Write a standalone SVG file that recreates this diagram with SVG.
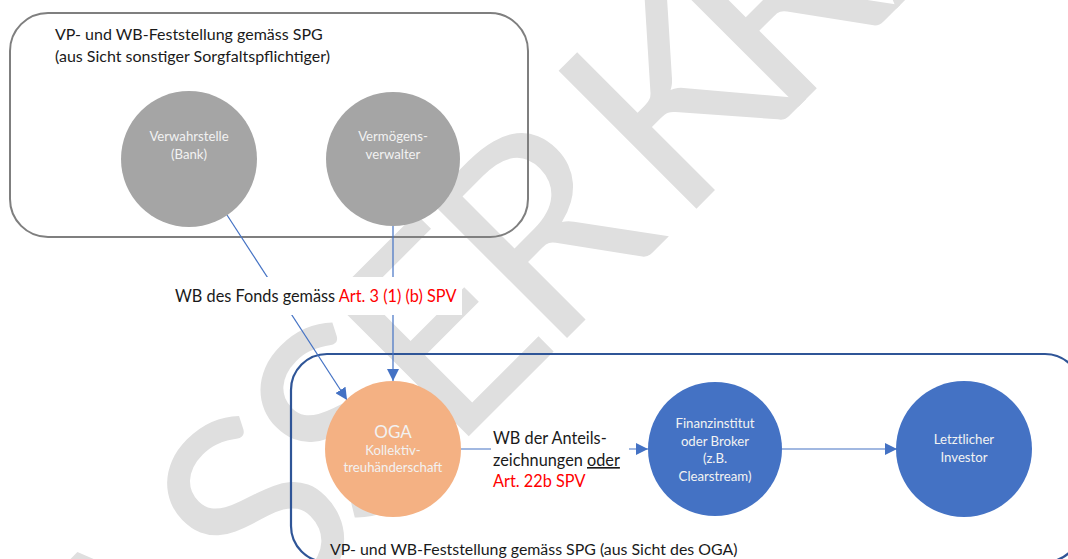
<svg xmlns="http://www.w3.org/2000/svg" width="1068" height="559" viewBox="0 0 1068 559">
<style>
text{font-family:Lato,"Open Sans","Liberation Sans",sans-serif}
.wm{fill:#dfdfdf;font-size:272px}
.grp-grey{fill:none;stroke:#7f7f7f;stroke-width:2}
.grp-blue{fill:none;stroke:#2f5597;stroke-width:2.2}
.ttl{font-size:16px;fill:#1a1a1a}
.lbl{font-size:16.3px;fill:#1a1a1a}
.red{fill:#ff0000}
.nt{font-size:13.2px;fill:#f2f2f2;text-anchor:middle}
.conn{stroke:#4472c4;stroke-width:1.2;fill:none}
.bg{fill:#ffffff}
</style>
<defs>
<marker id="ah" markerWidth="12" markerHeight="12" refX="12" refY="6" orient="auto" markerUnits="userSpaceOnUse"><path d="M0,0 L12,6 L0,12 z" fill="#4472c4"/></marker>
</defs>
<rect width="1068" height="559" fill="#ffffff"/>
<g id="watermark" transform="rotate(-45)">
<text class="wm" x="-686 -441 -256 -124 -2 137 320 464 627 807 960" y="640">WASSERKRAFT</text>
</g>
<g id="group-sonstige">
<rect class="grp-grey" x="10" y="13" width="518" height="224" rx="38"/>
<text class="ttl" x="55" y="40">VP- und WB-Feststellung gemäss SPG</text>
<text class="ttl" x="55" y="62">(aus Sicht sonstiger Sorgfaltspflichtiger)</text>
</g>
<g id="group-oga">
<rect class="grp-blue" x="291" y="354" width="790" height="208" rx="36"/>
<text class="ttl" x="330" y="555" style="font-size:15.9px">VP- und WB-Feststellung gemäss SPG (aus Sicht des OGA)</text>
</g>
<g id="connectors">
<line class="conn" x1="227" y1="215" x2="347" y2="400" marker-end="url(#ah)"/>
<line class="conn" x1="393" y1="226" x2="393" y2="381" marker-end="url(#ah)"/>
<line class="conn" x1="461" y1="449" x2="648" y2="449" marker-end="url(#ah)"/>
<line class="conn" x1="782" y1="449" x2="897" y2="449" marker-end="url(#ah)"/>
</g>
<g id="label-fonds">
<rect class="bg" x="170" y="277" width="292" height="38"/>
<text class="lbl" x="175" y="302">WB des Fonds gemäss <tspan class="red">Art. 3 (1) (b) SPV</tspan></text>
</g>
<g id="label-anteile">
<rect class="bg" x="491" y="428" width="138" height="66"/>
<text class="lbl" x="493" y="444">WB der Anteils-</text>
<text class="lbl" x="493" y="466">zeichnungen <tspan style="text-decoration:underline">oder</tspan></text>
<text class="lbl red" x="493" y="487">Art. 22b SPV</text>
</g>
<g id="node-verwahrstelle">
<circle cx="189" cy="159" r="68" fill="#a5a5a5"/>
<text class="nt" x="189" y="141">Verwahrstelle</text>
<text class="nt" x="189" y="159">(Bank)</text>
</g>
<g id="node-vermoegensverwalter">
<circle cx="393" cy="159" r="67" fill="#a5a5a5"/>
<text class="nt" x="393" y="141">Vermögens-</text>
<text class="nt" x="393" y="159">verwalter</text>
</g>
<g id="node-oga">
<circle cx="393" cy="449" r="68" fill="#f4b183"/>
<text class="nt" x="393" y="438" style="font-size:17px">OGA</text>
<text class="nt" x="393" y="455">Kollektiv-</text>
<text class="nt" x="393" y="472">treuhänderschaft</text>
</g>
<g id="node-finanzinstitut">
<circle cx="715" cy="449" r="67" fill="#4472c4"/>
<text class="nt" x="715" y="428">Finanzinstitut</text>
<text class="nt" x="715" y="445.5">oder Broker</text>
<text class="nt" x="715" y="463">(z.B.</text>
<text class="nt" x="715" y="480.5">Clearstream)</text>
</g>
<g id="node-investor">
<circle cx="964" cy="449" r="68" fill="#4472c4"/>
<text class="nt" x="964" y="444">Letztlicher</text>
<text class="nt" x="964" y="461.5">Investor</text>
</g>
</svg>
